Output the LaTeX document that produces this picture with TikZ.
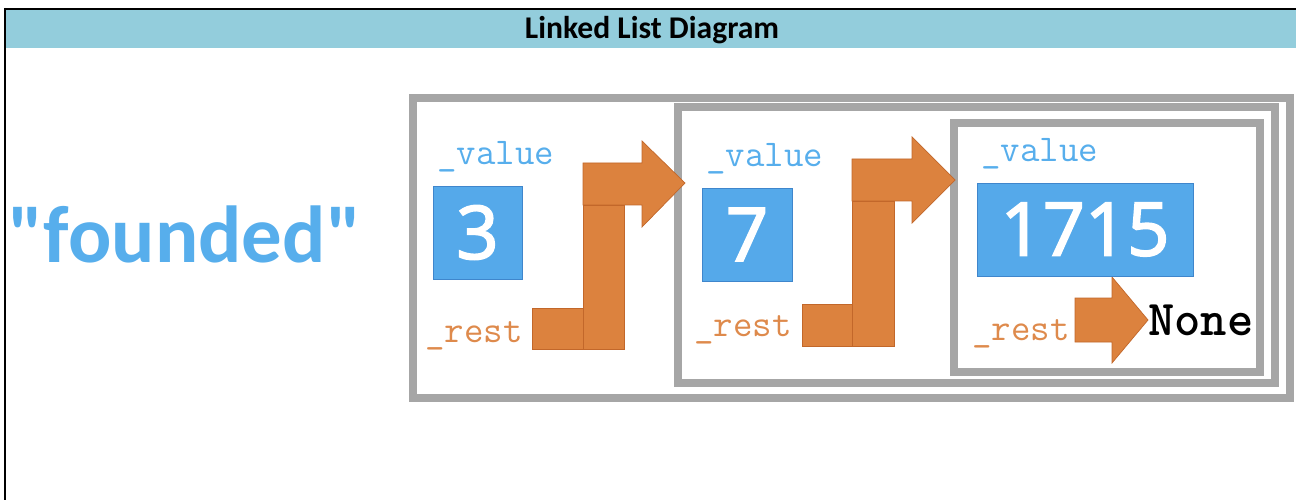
\documentclass[tikz,border=0pt]{standalone}
\usepackage{fontspec}
\usepackage{xcolor}
\usepackage{tikz}
\usetikzlibrary{arrows.meta, calc}
\newfontfamily\carlito{Carlito}
\newfontfamily\digits[FakeBold=2.5]{Open Sans}

\definecolor{TitleBar}{HTML}{93CDDC}
\definecolor{BoxGray}{HTML}{A6A6A6}
\definecolor{ValBlue}{HTML}{55A9EA}
\definecolor{ValEdge}{HTML}{3F86CC}
\definecolor{PtrOrange}{HTML}{DC823E}
\definecolor{PtrEdge}{HTML}{C2672A}
\definecolor{RestText}{HTML}{DE8A4C}
\definecolor{ValueText}{HTML}{57AEEC}

\begin{document}
\begin{tikzpicture}[x=0.02cm, y=-0.02cm,
  frame/.style={draw=BoxGray, line width=4pt},
  valbox/.style={draw=ValEdge, fill=ValBlue, text=white, inner sep=0pt, font=\digits\fontsize{42}{42}\selectfont},
  vallbl/.style={anchor=base west, inner sep=0pt, text=ValueText, font=\ttfamily\fontsize{21.5}{21.5}\selectfont},
  restlbl/.style={vallbl, text=RestText},
  ptr/.style={fill=PtrOrange, draw=PtrEdge, line width=0.4pt, line join=miter}]

  \useasboundingbox (0,0) rectangle (1296,500);

  % heading
  \fill[TitleBar] (5,10) rectangle (1296,48);
  \draw[line width=1.5pt] (4,9) -- (1296,9);
  \draw[line width=1.2pt] (5,8) -- (5,500);
  \node[font=\carlito\bfseries\fontsize{18}{18}\selectfont] (title) at (652,30) {Linked List Diagram};

  \node[anchor=base, inner sep=0pt, text=ValueText, font=\carlito\bfseries\fontsize{46}{46}\selectfont] (word) at (185,262) {"founded"};

  % nested lists
  \draw[frame] (413,98) rectangle (1290,398);
  \draw[frame] (678,107) rectangle (1275,383);
  \draw[frame] (954,123) rectangle (1260,372);

  \coordinate (P1) at (532,308);
  \coordinate (P2) at (802,304);
  \coordinate (P3) at (1075,298);
  \coordinate (tip) at ($ (P3)+(73,22) $);

  % first pointer
  \filldraw[ptr] (P1) rectangle +(51,41);
  \filldraw[ptr] ($ (P1)+(51,-103) $) rectangle +(41,144);
  \filldraw[ptr] ($ (P1)+(51,-145) $) -- +(59,0) -- +(59,-22) -- +(102,20) -- +(59,64) -- +(59,42) -- +(0,42) -- cycle;

  % second pointer
  \filldraw[ptr] (P2) rectangle +(50,42);
  \filldraw[ptr] ($ (P2)+(50,-103) $) rectangle +(42,145);
  \filldraw[ptr] ($ (P2)+(50,-145) $) -- +(60,0) -- +(60,-22) -- +(103,21) -- +(60,64) -- +(60,42) -- +(0,42) -- cycle;

  % last pointer
  \filldraw[ptr] (P3) -- +(37,0) -- +(37,-21) -- (tip) -- +(-36,43) -- +(-36,22) -- +(-73,22) -- cycle;

  \node[valbox, minimum width=1.78cm, minimum height=1.86cm] (n1) at (477.5,232.5) {3};
  \node[valbox, minimum width=1.8cm, minimum height=1.86cm] (n2) at (747,234.5) {7};
  \node[valbox, minimum width=4.32cm, minimum height=1.86cm] (n3) at (1085,229.5) {1715};

  \node[vallbl] (val1) at (437,165) {\_value};
  \node[vallbl] (val2) at (706,167) {\_value};
  \node[vallbl] (val3) at (981,162) {\_value};
  \node[restlbl] (rest1) at (425,342) {\_rest};
  \node[restlbl] (rest2) at (694,337) {\_rest};
  \node[restlbl] (rest3) at (972,340) {\_rest};

  \node[anchor=west, inner sep=0pt, font=\ttfamily\bfseries\fontsize{28.5}{28.5}\selectfont] (none) at (tip) {None};

\end{tikzpicture}
\end{document}
